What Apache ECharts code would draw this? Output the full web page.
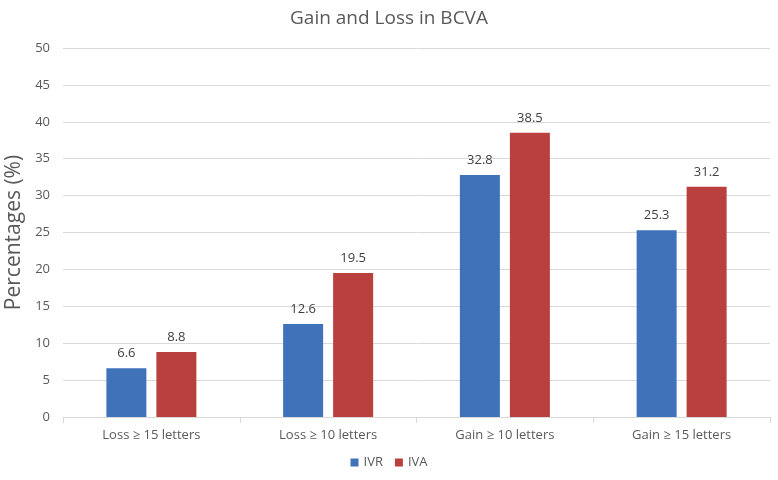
<!DOCTYPE html>
<html><head><meta charset="utf-8">
<script src="https://cdn.jsdelivr.net/npm/echarts@6/dist/echarts.min.js"></script>
<style>html,body{margin:0;padding:0;background:#fff}#c{width:778px;height:480px}</style>
</head><body><div id="c"></div>
<script>
const categories = ['Loss ≥ 15 letters', 'Loss ≥ 10 letters', 'Gain ≥ 10 letters', 'Gain ≥ 15 letters'];
const ivr = [6.6, 12.6, 32.8, 25.3];
const iva = [8.8, 19.5, 38.5, 31.2];
const seriesNames = ['IVR', 'IVA'];
const font = 'Open Sans';
const chart = echarts.init(document.getElementById('c'));
chart.setOption({
  animation: false,
  textStyle: {fontFamily: font},
  title: {text: 'Gain and Loss in BCVA', left: 'center', top: 4,
    textStyle: {fontFamily: font, fontSize: 19, fontWeight: 'normal', color: '#595959'}},
  legend: {data: seriesNames, bottom: 6, itemWidth: 8, itemHeight: 8, itemGap: 12,
    icon: 'rect', textStyle: {fontFamily: font, fontSize: 13, color: '#595959'}},
  grid: {left: 63, right: 8, top: 48, bottom: 63, outerBoundsMode: 'none', containLabel: false},
  xAxis: {type: 'category', data: categories,
    axisLine: {lineStyle: {color: '#d9d9d9'}},
    axisTick: {show: true, length: 6, lineStyle: {color: '#d9d9d9'}},
    axisLabel: {fontFamily: font, fontSize: 13, color: '#595959', margin: 12}},
  yAxis: {type: 'value', min: 0, max: 50, interval: 5,
    name: 'Percentages (%)', nameLocation: 'middle', nameGap: 37,
    nameTextStyle: {fontFamily: font, fontSize: 21, color: '#595959'},
    axisLine: {show: false}, axisTick: {show: false},
    axisLabel: {fontFamily: font, fontSize: 13, color: '#595959', margin: 13},
    splitLine: {lineStyle: {color: '#d9d9d9'}}},
  series: [
    {name: seriesNames[0], type: 'bar', data: ivr, barWidth: 40, barGap: '25%',
      itemStyle: {color: '#4072B9'},
      label: {show: true, position: 'top', distance: 8, fontFamily: font, fontSize: 13, color: '#404040'}},
    {name: seriesNames[1], type: 'bar', data: iva, barWidth: 40,
      itemStyle: {color: '#BA3F3F'},
      label: {show: true, position: 'top', distance: 8, fontFamily: font, fontSize: 13, color: '#404040'}}
  ]
});
</script></body></html>
